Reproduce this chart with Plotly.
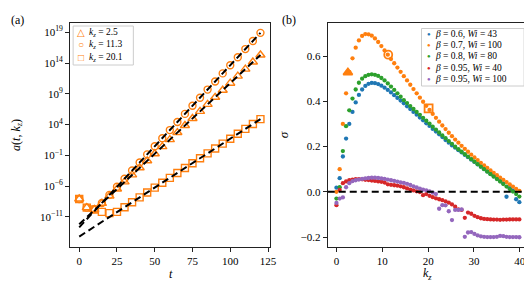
import plotly.graph_objects as go

# ---------------- panel (a) data: log10 of amplitude ----------------
T = [0, 5, 10, 15, 20, 25, 30, 35, 40, 45, 50, 55, 60, 65, 70, 75, 80, 85, 90, 95, 100, 105, 110, 115, 120]
LOGA_K25 = [-8.1, -9.5, -9.8, -8.8, -7.62, -6.47, -5.32, -4.18, -3.03, -1.89, -0.74, 0.41, 1.55, 2.7,
            3.84, 4.99, 6.14, 7.28, 8.43, 9.57, 10.72, 11.87, 13.01, 14.16, 15.3]
LOGA_K113 = [-8.1, -9.5, -9.75, -8.75, -7.43, -6.12, -4.8, -3.48, -2.17, -0.85, 0.47, 1.78, 3.1, 4.41,
             5.73, 7.05, 8.36, 9.68, 10.99, 12.31, 13.63, 14.94, 16.26, 17.57, 18.9]
LOGA_K201 = [-8.1, -9.5, -9.8, -10.2, -10.4, -10.2, -9.43, -8.64, -7.84, -7.05, -6.25, -5.46, -4.66, -3.87,
             -3.07, -2.28, -1.48, -0.69, 0.11, 0.9, 1.7, 2.5, 3.29, 4.09, 4.88]
FIT_T = [0, 120]
FIT_K25 = [-12.2, 15.3]
FIT_K113 = [-12.7, 18.9]
FIT_K201 = [-14.2, 4.88]
A_LABELS = ["2.5", "11.3", "20.1"]
A_YTICKS = [-11, -6, -1, 4, 9, 14, 19]
A_XTICKS = [0, 25, 50, 75, 100, 125]

# ---------------- panel (b) data: growth rate sigma vs k_z ----------------
KZ = [0.0, 0.7, 1.4, 2.1, 2.8, 3.5, 4.2, 4.9, 5.6, 6.3, 7.0, 7.7, 8.4, 9.1, 9.8, 10.5, 11.2, 11.9, 12.6, 13.3,
      14.0, 14.7, 15.4, 16.1, 16.8, 17.5, 18.2, 18.9, 19.6, 20.3, 21.0, 21.7, 22.4, 23.1, 23.8, 24.5, 25.2, 25.9,
      26.6, 27.3, 28.0, 28.7, 29.4, 30.1, 30.8, 31.5, 32.2, 32.9, 33.6, 34.3, 35.0, 35.7, 36.4, 37.1, 37.8, 38.5,
      39.2, 39.9]
S_B06_WI43 = [0.018, 0.06, 0.156, 0.235, 0.30, 0.353, 0.395, 0.428, 0.452, 0.468, 0.477, 0.481, 0.480, 0.476,
              0.469, 0.460, 0.450, 0.439, 0.427, 0.415, 0.403, 0.391, 0.378, 0.366, 0.353, 0.341, 0.328, 0.316,
              0.303, 0.291, 0.278, 0.266, 0.254, 0.242, 0.229, 0.217, 0.205, 0.195, 0.184, 0.174, 0.163, 0.153,
              0.142, 0.132, 0.121, 0.111, 0.100, 0.090, 0.079, 0.069, 0.058, 0.048, 0.037, -0.022, 0.016, 0.006,
              -0.033, -0.046]
S_B07_WI100 = [0.0, 0.10, 0.30, 0.435, 0.53, 0.59, 0.637, 0.669, 0.689, 0.697, 0.696, 0.690, 0.678, 0.662,
               0.644, 0.625, 0.606, 0.587, 0.568, 0.549, 0.530, 0.511, 0.492, 0.473, 0.454, 0.435, 0.416, 0.398,
               0.380, 0.362, 0.344, 0.327, 0.310, 0.293, 0.277, 0.261, 0.246, 0.231, 0.217, 0.203, 0.190, 0.177,
               0.164, 0.152, 0.140, 0.128, 0.117, 0.106, 0.095, 0.084, 0.073, 0.063, 0.053, 0.043, 0.033, 0.023,
               0.013, 0.004]
S_B08_WI80 = [-0.03, 0.02, 0.18, 0.29, 0.36, 0.412, 0.452, 0.482, 0.500, 0.511, 0.517, 0.519, 0.517, 0.512,
              0.503, 0.492, 0.479, 0.465, 0.450, 0.435, 0.420, 0.405, 0.392, 0.379, 0.366, 0.353, 0.340, 0.327,
              0.314, 0.301, 0.288, 0.275, 0.262, 0.249, 0.237, 0.224, 0.212, 0.199, 0.188, 0.177, 0.166, 0.155,
              0.144, 0.133, 0.122, 0.111, 0.100, 0.089, 0.078, 0.067, 0.056, 0.045, 0.034, 0.023, 0.012, 0.001,
              -0.010, -0.021]
S_B095_WI40 = [-0.059, 0.008, 0.038, 0.046, 0.051, 0.054, 0.056, 0.056, 0.055, 0.053, 0.052, 0.050, 0.048,
               0.046, 0.044, 0.041, 0.033, 0.031, 0.029, 0.027, 0.024, 0.020, 0.015, 0.010, 0.006, 0.002, -0.001,
               -0.015, -0.010, -0.018, -0.024, -0.029, -0.033, -0.037, -0.042, -0.048, -0.056, -0.066, -0.078,
               -0.080, -0.115, -0.092, -0.097, -0.106, -0.112, -0.117, -0.120, -0.121, -0.122, -0.123, -0.123,
               -0.124, -0.123, -0.123, -0.122, -0.122, -0.122, -0.122]
S_B095_WI100 = [-0.049, -0.03, -0.025, 0.02, 0.038, 0.047, 0.051, 0.054, 0.057, 0.059, 0.061, 0.062, 0.062,
                0.061, 0.059, 0.057, 0.054, 0.051, 0.048, 0.045, 0.042, 0.039, 0.035, 0.030, 0.024, 0.019, 0.014,
                0.010, 0.006, 0.002, -0.004, -0.010, -0.075, -0.059, -0.060, -0.086, -0.125, -0.080, -0.080,
                -0.078, -0.199, -0.180, -0.178, -0.186, -0.193, -0.197, -0.199, -0.200, -0.200, -0.200, -0.199,
                -0.195, -0.196, -0.199, -0.200, -0.200, -0.200, -0.201]
HL_K = [2.5, 11.3, 20.1]
HL_S = [0.527, 0.606, 0.369]
B_NAMES = [("0.6", "43"), ("0.7", "100"), ("0.8", "80"), ("0.95", "40"), ("0.95", "100")]
B_XTICKS = [0, 10, 20, 30, 40]
B_YTICKS = [-0.2, 0.0, 0.2, 0.4, 0.6]

# ---------------- styling ----------------
W, H = 532, 281
ORANGE = "#ff7f0e"
COLORS = ["#1f77b4", "#ff7f0e", "#2ca02c", "#d62728", "#9467bd"]
FONT = "Liberation Serif, Times New Roman, DejaVu Serif, serif"
AX = "#222222"


def px(x):
    return x / W


def py(y):
    return 1 - y / H


fig = go.Figure()

symbols = ["triangle-up-open", "circle-open", "square-open"]
sizes = [8, 7, 7]
for vals, sym, sz in zip([LOGA_K25, LOGA_K113, LOGA_K201], symbols, sizes):
    fig.add_trace(go.Scatter(x=T, y=[10 ** v for v in vals], mode="markers",
                             marker=dict(symbol=sym, size=sz, color=ORANGE, line=dict(color=ORANGE, width=1.4)),
                             xaxis="x", yaxis="y", showlegend=False))
for fit in [FIT_K25, FIT_K113, FIT_K201]:
    fig.add_trace(go.Scatter(x=FIT_T, y=[10 ** v for v in fit], mode="lines",
                             line=dict(color="black", width=2, dash="7px,4px"),
                             xaxis="x", yaxis="y", showlegend=False))

for vals, col in zip([S_B06_WI43, S_B07_WI100, S_B08_WI80, S_B095_WI40, S_B095_WI100], COLORS):
    fig.add_trace(go.Scatter(x=KZ, y=vals, mode="markers",
                             marker=dict(size=4.3, color=col, line=dict(width=0)),
                             xaxis="x2", yaxis="y2", showlegend=False))
hl_symbols = ["triangle-up", "circle-open", "square-open"]
for k, s, sym in zip(HL_K, HL_S, hl_symbols):
    fig.add_trace(go.Scatter(x=[k], y=[s], mode="markers",
                             marker=dict(symbol=sym, size=8, color=ORANGE, line=dict(color=ORANGE, width=1.8)),
                             xaxis="x2", yaxis="y2", showlegend=False))

axis_common = dict(showline=True, mirror=True, linecolor=AX, linewidth=1.2, ticks="outside", ticklen=4,
                   tickwidth=1, tickcolor=AX, showgrid=False, zeroline=False,
                   tickfont=dict(family=FONT, size=11, color="black"))

fig.update_layout(
    width=W, height=H, margin=dict(l=0, r=0, t=0, b=0),
    plot_bgcolor="white", paper_bgcolor="white", showlegend=False,
    font=dict(family=FONT, color="black"),
    xaxis=dict(domain=[px(63), px(265)], range=[-6, 126], anchor="y",
               tickvals=A_XTICKS, ticktext=[str(v) for v in A_XTICKS], **axis_common),
    yaxis=dict(domain=[py(239), py(15)], type="log", range=[-15.9, 20.5], anchor="x",
               tickvals=[10 ** v for v in A_YTICKS],
               ticktext=["10<sup>" + str(v).replace("-", "−") + "</sup>" for v in A_YTICKS], **axis_common),
    xaxis2=dict(domain=[px(324), px(527)], range=[-1.9, 41.8], anchor="y2",
                tickvals=B_XTICKS, ticktext=[str(v) for v in B_XTICKS], **axis_common),
    yaxis2=dict(domain=[py(239), py(15)], range=[-0.244, 0.746], anchor="x2",
                tickvals=B_YTICKS, ticktext=[f"{v:.1f}".replace("-", "−") for v in B_YTICKS], **axis_common),
)

# zero line in panel (b)
fig.add_shape(type="line", xref="x2 domain", yref="y2", x0=0, x1=1, y0=0, y1=0,
              line=dict(color="black", width=2, dash="7px,4px"), layer="above")

ann = []


def text(x, y, s, size=11, angle=0, xanchor="center", color="black"):
    ann.append(dict(x=px(x), y=py(y), xref="paper", yref="paper", text=s, showarrow=False,
                    xanchor=xanchor, yanchor="middle", textangle=angle,
                    font=dict(family=FONT, size=size, color=color)))


text(10, 12, "(a)", 12)
text(285, 12, "(b)", 12)
text(165, 265.5, "<i>t</i>", 12)
text(425, 266, "<i>k</i><sub><i>z</i></sub>", 12)
text(9, 127, "<i>a</i>(<i>t</i>, <i>k</i><sub><i>z</i></sub>)", 12, angle=-90)
text(279, 127, "<i>σ</i>", 13, angle=-90)

# legend (a)
fig.add_shape(type="rect", xref="paper", yref="paper", x0=px(66), x1=px(127), y0=py(57), y1=py(18),
              line=dict(color="#cccccc", width=1), fillcolor="rgba(255,255,255,0.85)", layer="above")
glyphs = ["△", "○", "□"]
for i, (g, lab) in enumerate(zip(glyphs, A_LABELS)):
    yy = 24.7 + i * 12.2
    text(74, yy, g, 10, color=ORANGE)
    text(80, yy, "<i>k</i><sub><i>z</i></sub> = " + lab, 9.5, xanchor="left")

# legend (b)
fig.add_shape(type="rect", xref="paper", yref="paper", x0=px(419), x1=px(523), y0=py(78), y1=py(20.5),
              line=dict(color="#cccccc", width=1), fillcolor="rgba(255,255,255,0.85)", layer="above")
for i, ((b, wi), col) in enumerate(zip(B_NAMES, COLORS)):
    yy = 25.7 + i * 11.4
    text(426.5, yy, "●", 6, color=col)
    text(431, yy, "<i>β</i> = " + b + ", <i>Wi</i> = " + wi, 9.5, xanchor="left")

fig.update_layout(annotations=ann)
fig.write_html("out.html")
